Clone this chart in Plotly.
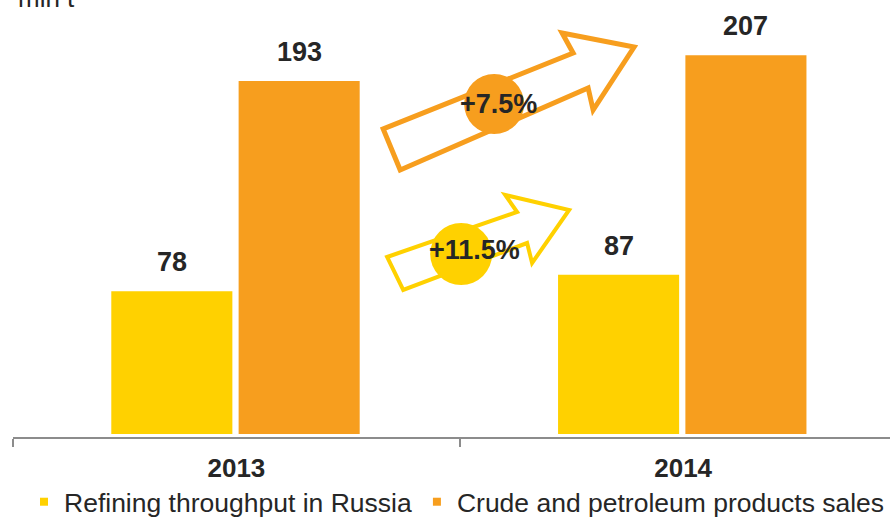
import plotly.graph_objects as go

years = ["2013", "2014"]
refining = [78, 87]
sales = [193, 207]
growth_refining = "+11.5%"
growth_sales = "+7.5%"
series_names = ["Refining throughput in Russia", "Crude and petroleum products sales"]
unit_label = "mln t"

YELLOW = "#FFD100"
ORANGE = "#F79E1E"
TEXT = "#262626"
FONT = "Liberation Sans, Arial, sans-serif"

# plot area in pixels (used to place the arrow decorations)
PX_L, PX_R, PX_T, PX_B = 12.7, 890, 0, 437


def px(x, y):
    return (x - PX_L) / (PX_R - PX_L), (PX_B - y) / (PX_B - PX_T)


def arrow_path(points):
    pts = [px(x, y) for x, y in points]
    return "M " + " L ".join("{:.4f},{:.4f}".format(a, b) for a, b in pts) + " Z"


def circle(cx, cy, r, color):
    x0, y0 = px(cx - r, cy + r)
    x1, y1 = px(cx + r, cy - r)
    return dict(type="circle", xref="paper", yref="paper", x0=x0, y0=y0, x1=x1, y1=y1,
                fillcolor=color, line=dict(width=0))


xs = list(range(len(years)))
bar_w = 0.271
offsets = [-0.28, 0.005]

fig = go.Figure()
for vals, color, off in [(refining, YELLOW, offsets[0]), (sales, ORANGE, offsets[1])]:
    fig.add_trace(go.Bar(x=xs, y=vals, width=bar_w, offset=off, marker_color=color,
                         marker_line_width=0, showlegend=False))

for name, color in zip(series_names, [YELLOW, ORANGE]):
    fig.add_trace(go.Scatter(x=[None], y=[None], mode="markers", name=name,
                             marker=dict(symbol="square", size=8, color=color)))

annotations = []
for vals, off in [(refining, offsets[0]), (sales, offsets[1])]:
    for i, v in enumerate(vals):
        annotations.append(dict(x=i + off + bar_w / 2, y=v, xref="x", yref="y", text="<b>%d</b>" % v,
                                showarrow=False, yanchor="bottom", yshift=12,
                                font=dict(size=27, color=TEXT, family=FONT)))

shapes = [
    dict(type="path", xref="paper", yref="paper", line=dict(color=ORANGE, width=5),
         path=arrow_path([(400, 170), (383, 129), (573, 53), (562, 33), (634, 47), (593, 110), (588, 88)])),
    dict(type="path", xref="paper", yref="paper", line=dict(color=YELLOW, width=4),
         path=arrow_path([(403, 290), (387, 257), (517, 212), (505, 195), (569, 210), (532, 263), (527, 243)])),
    circle(494, 104, 30, ORANGE),
    circle(461, 254, 31, YELLOW),
]

for label, (cx, cy) in [(growth_sales, (498, 104)), (growth_refining, (474, 250))]:
    x, y = px(cx, cy)
    annotations.append(dict(x=x, y=y, xref="paper", yref="paper", text="<b>%s</b>" % label,
                            showarrow=False, xanchor="center", yanchor="middle",
                            font=dict(size=27, color=TEXT, family=FONT)))

annotations.append(dict(x=0.003, y=1, xref="paper", yref="paper", text=unit_label, showarrow=False,
                        xanchor="left", yanchor="bottom", yshift=-15,
                        font=dict(size=26, color=TEXT, family=FONT)))

fig.update_layout(
    width=890,
    height=517,
    margin=dict(l=12.7, r=0, t=0, b=80),
    paper_bgcolor="white",
    plot_bgcolor="white",
    font=dict(family=FONT, color=TEXT),
    xaxis=dict(
        range=[-0.5, 1.463],
        tickvals=xs,
        ticktext=["<b>%s</b>" % y for y in years],
        tickfont=dict(size=26, color=TEXT),
        showline=True,
        linecolor="#8C8C8C",
        linewidth=2,
        ticks="",
        showgrid=False,
        zeroline=False,
        automargin=False,
        ticklabelstandoff=7,
        minor=dict(tickvals=[-0.5, 0.5, 1.5], ticks="outside", ticklen=8, tickwidth=2,
                   tickcolor="#8C8C8C", showgrid=False),
    ),
    yaxis=dict(range=[-1.6, 237.2], visible=False, showgrid=False, automargin=False),
    legend=dict(orientation="h", x=0.022, xanchor="left", xref="paper",
                y=(517 - 478) / 517, yanchor="top", yref="container",
                font=dict(size=26.5, color=TEXT), itemwidth=30, bgcolor="rgba(0,0,0,0)"),
    shapes=shapes,
    annotations=annotations,
)

fig.write_html("out.html", config={"displayModeBar": False},
               post_script="document.body.style.margin='0';")
